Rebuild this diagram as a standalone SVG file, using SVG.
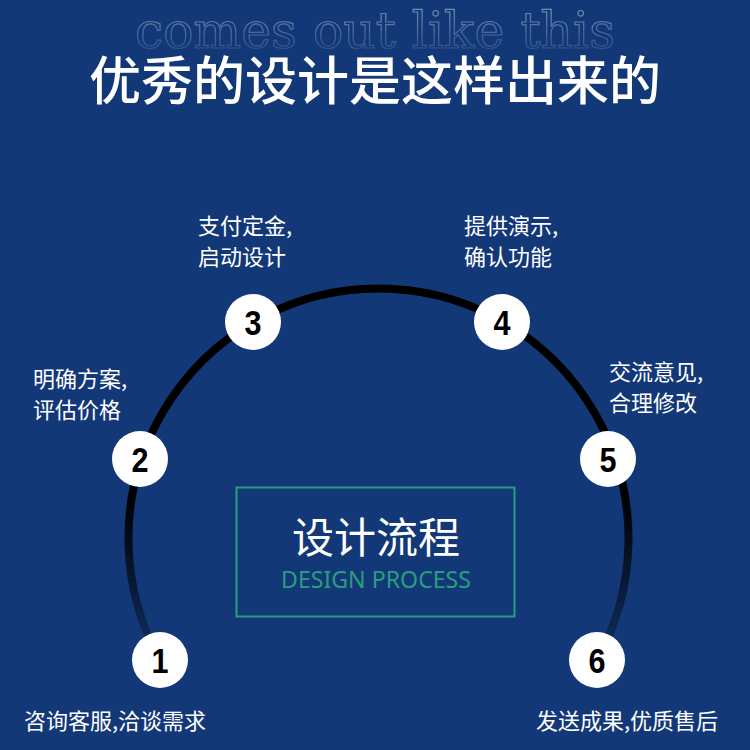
<svg xmlns="http://www.w3.org/2000/svg" width="750" height="750" viewBox="0 0 750 750">
<defs>
<linearGradient id="arcg" gradientUnits="userSpaceOnUse" x1="0" y1="300" x2="0" y2="690">
<stop offset="0" stop-color="#000"/><stop offset="0.5" stop-color="#000"/><stop offset="1" stop-color="#133878"/>
</linearGradient>
<linearGradient id="ghost" x1="0" y1="0" x2="0" y2="1">
<stop offset="0" stop-color="#fff" stop-opacity="0.45"/><stop offset="1" stop-color="#fff" stop-opacity="0.05"/>
</linearGradient>
</defs>
<style>
.lbl{font-family:"Noto Sans CJK SC","Noto Sans",sans-serif;font-size:22px;fill:#fff}
.num{font-family:"Liberation Sans",sans-serif;font-weight:bold;font-size:36px;fill:#000;text-anchor:middle}
.dot{fill:#fff}
</style>
<rect width="750" height="750" fill="#133878"/>
<text x="375" y="48" text-anchor="middle" font-family="'DejaVu Serif',serif" font-weight="300" font-size="50" fill="none" stroke="url(#ghost)" stroke-width="1.2" textLength="480" lengthAdjust="spacingAndGlyphs">comes out like this</text>
<text x="375" y="100" text-anchor="middle" font-family="'Noto Sans CJK SC',sans-serif" font-weight="500" font-size="52" fill="#fff">优秀的设计是这样出来的</text>
<g id="connectors">
<path d="M160,660 A250,250 0 1 1 597,660" fill="none" stroke="url(#arcg)" stroke-width="8"/>
</g>
<g id="center">
<rect x="236.5" y="487.5" width="278" height="129" fill="none" stroke="#2a9d7f" stroke-width="2"/>
<text x="376" y="553" text-anchor="middle" font-family="'Noto Sans CJK SC',sans-serif" font-size="42" fill="#fff">设计流程</text>
<text x="376" y="588" text-anchor="middle" font-family="'Noto Sans',sans-serif" font-size="23" fill="#2a9d7f" textLength="190" lengthAdjust="spacingAndGlyphs">DESIGN PROCESS</text>
</g>
<g id="n1"><circle class="dot" cx="160" cy="660" r="28"/><text class="num" transform="translate(160 673) scale(0.85 1)">1</text><text class="lbl" x="24" y="729">咨询客服,洽谈需求</text></g>
<g id="n2"><circle class="dot" cx="140" cy="459" r="28"/><text class="num" transform="translate(140 472) scale(0.85 1)">2</text><text class="lbl" x="33" y="387">明确方案,</text><text class="lbl" x="33" y="418">评估价格</text></g>
<g id="n3"><circle class="dot" cx="253" cy="322" r="28"/><text class="num" transform="translate(253 335) scale(0.85 1)">3</text><text class="lbl" x="198" y="234">支付定金,</text><text class="lbl" x="198" y="265">启动设计</text></g>
<g id="n4"><circle class="dot" cx="502" cy="322" r="28"/><text class="num" transform="translate(502 335) scale(0.85 1)">4</text><text class="lbl" x="464" y="234">提供演示,</text><text class="lbl" x="464" y="265">确认功能</text></g>
<g id="n5"><circle class="dot" cx="608" cy="459" r="28"/><text class="num" transform="translate(608 472) scale(0.85 1)">5</text><text class="lbl" x="609" y="380">交流意见,</text><text class="lbl" x="609" y="411">合理修改</text></g>
<g id="n6"><circle class="dot" cx="597" cy="660" r="28"/><text class="num" transform="translate(597 673) scale(0.85 1)">6</text><text class="lbl" x="536" y="729">发送成果,优质售后</text></g>
</svg>
